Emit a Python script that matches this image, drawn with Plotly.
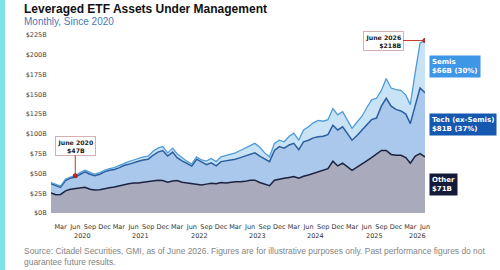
import pandas as pd
import plotly.graph_objects as go

# ---- data (USD billions, monthly Jan 2020 .. Jun 2026) ----
months = pd.date_range("2020-01-01", periods=78, freq="MS")
other = [25.5, 23, 23.5, 28, 30, 31, 32, 32.5, 30, 29, 29.5, 31, 32, 33, 34.5, 36, 37, 38, 38, 39,
         40, 40.5, 41.5, 41, 39, 40.5, 41, 39, 38, 37, 36, 35.5, 36.5, 37.5, 37, 38.5, 38, 39, 39.5, 39.5,
         40, 41.5, 41.5, 38.5, 36, 34.5, 41.5, 43, 44, 45, 46, 44, 46.5, 48, 50, 52, 54, 56, 65.5, 59.5,
         63, 58, 54, 58, 62.5, 66, 70, 75, 79, 79, 74, 73, 73, 70, 63, 72, 75, 71]
tech = [11.5, 12, 9, 13, 14, 14.5, 17, 19.5, 19, 18, 19.5, 21, 22, 22, 22.5, 24, 24.5, 26, 27.5, 28,
        28, 32.5, 35.5, 38, 33, 36.5, 29, 27, 25, 22.5, 32, 29.5, 24.5, 26, 22.5, 26.5, 28, 27.5, 28.5, 30.5,
        32, 32.5, 34.5, 33.5, 32, 30.5, 37.5, 41, 38, 41, 42, 36, 43.5, 44, 45, 44.5, 43, 43, 45.5, 45.5,
        46, 42, 38, 40, 42.5, 46, 48, 45, 56, 66, 61, 58, 56, 55, 50, 64, 83, 81]
semis = [1.5, 1.5, 1.5, 2, 1.5, 1.5, 2, 2, 2, 2, 2, 2, 2, 2.5, 3, 3, 3.5, 3, 3.5, 4,
         4, 5, 5, 5, 4, 5, 5, 4, 2.5, 2.5, 3, 2, 4.5, 5.5, 5.5, 6, 6.5, 7.5, 8, 9,
         10, 11, 12, 11, 8, 6, 9, 8, 8, 11, 13, 12, 15, 17, 19, 20.5, 19, 19, 21, 19,
         19, 17, 15, 17, 17, 21, 25, 25, 20, 25, 23, 25, 26, 24, 24, 42, 57, 66]

series_names = ["Other", "Tech (ex-Semis)", "Semis"]
label_texts = ["Other<br>$71B", "Tech (ex-Semis)<br>$81B (37%)", "Semis<br>$66B (30%)"]
callout_idx = [5, 77]
callout_text = ["June 2020<br>$47B", "June 2026<br>$218B"]
y_ticks = [0, 25, 50, 75, 100, 125, 150, 175, 200, 225]
y_ticktext = ["$%dB" % v for v in y_ticks]
month_names = {3: "Mar", 6: "Jun", 9: "Sep", 12: "Dec"}

# ---- layout helpers ----
W, H = 500, 270
L, R, T, B = 51, 75, 35, 57
PW, PH = W - L - R, H - T - B


def px(x):
    return (x - L) / PW


def py(y):
    return (H - B - y) / PH


lvl1 = other
lvl2 = [a + b for a, b in zip(other, tech)]
lvl3 = [a + b for a, b in zip(lvl2, semis)]

fig = go.Figure()
fig.add_trace(go.Scatter(x=months, y=lvl1, mode="lines", fill="tozeroy",
                         line=dict(color="#1c2340", width=1.5), fillcolor="#a9aabb",
                         name=series_names[0], hoverinfo="skip"))
fig.add_trace(go.Scatter(x=months, y=lvl2, mode="lines", fill="tonexty",
                         line=dict(color="#2c5e9e", width=1.5), fillcolor="#a9c8eb",
                         name=series_names[1], hoverinfo="skip"))
fig.add_trace(go.Scatter(x=months, y=lvl3, mode="lines", fill="tonexty",
                         line=dict(color="#4f9bd8", width=1.3), fillcolor="#c8e2f6",
                         name=series_names[2], hoverinfo="skip"))
fig.add_trace(go.Scatter(x=[months[i] for i in callout_idx], y=[lvl3[i] for i in callout_idx],
                         mode="markers", marker=dict(color="#b3202e", size=5),
                         hoverinfo="skip", showlegend=False))

# x ticks
tickvals, ticktext, year_pos = [], [], {}
for d in months:
    if d.month in month_names:
        tickvals.append(d)
        ticktext.append(month_names[d.month])
        year_pos.setdefault(d.year, []).append(d)

annotations = []
for yr, ds in year_pos.items():
    mid = ds[0] + (ds[-1] - ds[0]) / 2
    annotations.append(dict(x=mid, y=py(236), xref="x", yref="paper", text=str(yr),
                            showarrow=False, font=dict(family="DejaVu Sans", size=6.5, color="#333"),
                            xanchor="center", yanchor="middle"))

# end labels
cum_lo = [0, lvl1[-1], lvl2[-1]]
cum_hi = [lvl1[-1], lvl2[-1], lvl3[-1]]
box_colors = ["#141a37", "#1558b0", "#3d96e6"]
for lo, hi, txt, c in zip(cum_lo, cum_hi, label_texts, box_colors):
    annotations.append(dict(x=months[-1], y=(lo + hi) / 2, xref="x", yref="y", text="<b>%s</b>" % txt,
                            showarrow=False, xanchor="left", yanchor="middle", xshift=4, align="left",
                            bgcolor=c, borderpad=2, font=dict(family="DejaVu Sans", size=7, color="white")))

# callouts
offsets = [(0, -30), (-42, 0)]
aligns = ["center", "right"]
for i, txt, (ax, ay), al in zip(callout_idx, callout_text, offsets, aligns):
    annotations.append(dict(x=months[i], y=lvl3[i], xref="x", yref="y", text="<b>%s</b>" % txt,
                            showarrow=True, ax=ax, ay=ay, arrowhead=0, arrowwidth=1, arrowcolor="#c0392b",
                            standoff=0, bgcolor="white", bordercolor="#d4b0b0", borderwidth=1, borderpad=1.5,
                            align=al, font=dict(family="DejaVu Sans", size=6.2, color="#222")))

# titles and footer
annotations += [
    dict(x=px(22), y=py(9.5), xref="paper", yref="paper", text="<b>Leveraged ETF Assets Under Management</b>",
         showarrow=False, xanchor="left", yanchor="middle",
         font=dict(family="Liberation Sans", size=12, color="#111")),
    dict(x=px(22), y=py(21), xref="paper", yref="paper", text="Monthly, Since 2020",
         showarrow=False, xanchor="left", yanchor="middle",
         font=dict(family="Liberation Sans", size=10, color="#4a78b5")),
    dict(x=px(22), y=py(250.5), xref="paper", yref="paper",
         text="Source: Citadel Securities, GMI, as of June 2026. Figures are for illustrative purposes only. Past performance figures do not",
         showarrow=False, xanchor="left", yanchor="middle",
         font=dict(family="Liberation Sans", size=8.45, color="#858585")),
    dict(x=px(22), y=py(261.5), xref="paper", yref="paper", text="guarantee future results.",
         showarrow=False, xanchor="left", yanchor="middle",
         font=dict(family="Liberation Sans", size=8.45, color="#858585")),
]

fig.update_layout(
    width=W, height=H, margin=dict(l=L, r=R, t=T, b=B),
    paper_bgcolor="white", plot_bgcolor="white", showlegend=False,
    annotations=annotations,
    shapes=[dict(type="rect", xref="paper", yref="paper", x0=px(0), x1=px(5), y0=py(270), y1=py(0),
                 fillcolor="#80e2e5", line=dict(width=0), layer="below")],
    xaxis=dict(type="date", range=[months[0], months[-1]], tickvals=tickvals, ticktext=ticktext,
               showgrid=False, zeroline=False, showline=False, ticks="outside", ticklen=7,
               tickcolor="rgba(0,0,0,0)", tickangle=0,
               tickfont=dict(family="DejaVu Sans", size=6.5, color="#333")),
    yaxis=dict(range=[0, 225], tickvals=y_ticks, ticktext=y_ticktext, showgrid=False, zeroline=False,
               showline=False, ticks="outside", ticklen=2, tickcolor="rgba(0,0,0,0)",
               tickfont=dict(family="DejaVu Sans", size=6.5, color="#444")),
)

fig.write_html("out.html")
